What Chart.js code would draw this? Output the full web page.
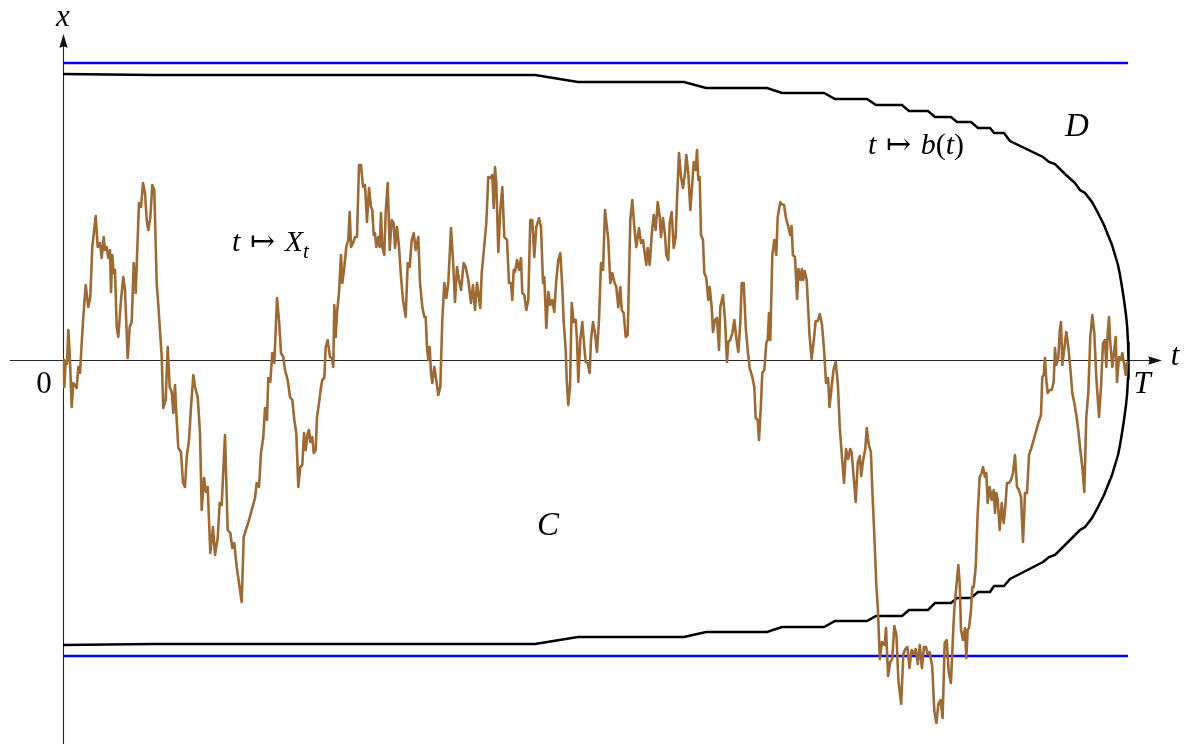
<!DOCTYPE html>
<html>
<head>
<meta charset="utf-8">
<script src="https://cdn.jsdelivr.net/npm/chart.js@4.4.1/dist/chart.umd.min.js"></script>
<style>
html,body{margin:0;padding:0;background:#fff;}
#wrap{width:1191px;height:744px;position:relative;}
</style>
</head>
<body>
<div id="wrap"><canvas id="c"></canvas></div>
<script>
// ---- data (t runs from 0 to T = 1065, x measured from the axis) ----
const T = 1065;
const barrierUp = 297;
const barrierDown = -296;

// upper stopping boundary t -> b(t)
const bT = [0, 90, 472, 515, 621, 643, 704, 719, 761, 772, 804, 813, 839, 846, 865, 872, 888, 894, 908, 915, 927, 931, 941, 947, 980, 986, 992, 1002, 1012, 1017, 1022, 1029, 1035, 1041, 1045, 1049, 1052, 1055, 1057, 1059, 1061, 1063, 1064.2, 1065, 1065.5];
const bX = [286, 285, 285, 278, 278, 272, 272, 267, 267, 261, 261, 255, 255, 249, 249, 243, 243, 238, 238, 232, 232, 227, 227, 219, 203, 198, 196, 186, 177, 170, 167, 158, 147, 135, 125, 115, 105, 95, 85, 73, 60, 45, 33, 18, 0];
// lower boundary
const lowT = [0, 90, 472, 515, 621, 643, 704, 719, 761, 772, 804, 813, 839, 846, 865, 872, 888, 894, 908, 915, 927, 931, 941, 947, 980, 986, 992, 1002, 1012, 1017, 1022, 1029, 1035, 1041, 1045, 1049, 1052, 1055, 1057, 1059, 1061, 1063, 1064.2, 1065, 1065.5];
const lowX = [-285, -284, -284, -277, -277, -272, -272, -267, -267, -261, -261, -256, -256, -250, -250, -243, -243, -238, -238, -232, -232, -226, -226, -219, -202, -197, -195, -185, -175, -170, -167, -158, -147, -135, -125, -115, -105, -95, -85, -73, -60, -45, -33, -18, 0];

// sample path t -> X_t
const pathT = [0,1,1.3,2.7,4,5.3,6.7,8.7,10.3,12,13.7,15.3,17,18.7,20.3,22.7,25.3,27.3,29.3,32.7,34.7,37,38.7,40.7,42,43.7,45.3,47,48,49.3,50.7,52,53.7,55.3,58,60.3,62,64.7,66.7,68.7,70.7,72.7,76,78,80,82,83.7,85.3,87.3,89.3,91.3,93.7,96,98.7,100.3,102.7,104.7,106.7,108.7,110.3,112,113.3,115.3,118,120,122,123.7,126,128,130.3,132,134.7,137,138.7,141,143,144.7,147.3,150,152,154.7,156.7,158.7,162,164.7,167.3,169.3,171.3,173.7,176,178.7,180.7,186,
192,193.7,196,198,200.3,202,204,205.3,207.3,209.3,211.3,214,216,218,220.3,222,224.7,227,229.3,231.3,233.3,235.3,237.3,239.3,241,242.7,244.7,246,247.3,249.3,250.7,252.7,254,256,258,259.3,261.3,262.7,264.7,267,268.7,270.3,271.3,272.7,274,276,278,279.3,281.3,283.3,285.3,286.7,288,290,292,294,296,298,300,302,304,306,308,309.3,310.7,312,313.3,315.3,316.7,318,319.3,321.3,322.7,324.7,326.7,328.7,330.7,332,334,336,338,340,342.7,344.7,346.7,348.7,350.7,352.7,
355.3,357,359.3,361.3,362.7,364,365.3,366.7,368,369.3,371.3,373.3,375.3,377.3,379.3,381.3,383.3,385.3,388,390,392,394,396,398,400.7,402.7,405.3,408,410,412,414,417.3,418.7,420.7,423.3,425.3,427.3,429.3,430.7,432,433.3,435.3,437.3,439.3,441.3,444,446,448,449.3,450.7,452,454,456,458,459.3,461.3,463.3,465.3,467.3,469.3,471.3,473.3,476,478,480,481.3,483.3,485.3,487.3,489.3,491.3,493.3,495.3,497.3,499.3,500.7,502.7,503.7,505.3,507,508.7,510.7,512.7,514,515.3,517.3,519.3,521.3,522.7,524.7,526.7,528,530,532,534,536,538,540,542,
545.3,547.3,549.3,551.3,553.3,555.3,557.3,558.7,560.7,562.7,564.7,567.3,569.3,571.3,573.3,576,578,580,581.3,583.3,584.7,586.7,588.7,590.7,592.7,594.7,596.7,598,600,602,603.3,605.3,606.7,608.7,610.7,612.7,614,616,618,620,622,623.3,625.3,627.3,629.3,630.7,632.7,634,635.3,636.7,638,640,641.3,643.3,645.3,646.7,648.7,650,652,654,656,657.3,660,662,664,665.3,667.3,669.3,671.3,673.3,675.3,677.3,678.7,680.7,682.7,684.7,686.7,689.3,691.3,692.7,694.7,696,698,699.3,701.3,703.3,704.7,706,707.3,709.3,711.3,713.3,714.7,717.3,
718.2,721,723,725.1,727.2,728.6,729.9,732,734.1,735.4,737.5,738.9,740.3,741.7,743.7,745.1,746.5,748.6,750.6,752.7,754.8,756.8,758.9,761,763,765.1,766.5,768.6,770.6,772.7,774.8,776.8,778.9,781,783,785.1,787.2,788.6,790.6,792.7,794.8,796.8,798.2,800.3,802.3,803.7,805.8,807.9,809.2,811.3,813.4,814.8,816.8,818.9,821.7,823,825.1,827.2,829.2,831.3,833.4,835.4,838.2,840.3,842.3,844.4,846.5,848.6,850.6,852.7,854.8,856.8,858.9,861,863,864.4,866.5,869.2,871.3,873.4,875.4,877.5,879.6,881.7,883.7,885.8,887.9,889.9,891.3,
895.3,896.7,898,900,902,903.3,904.7,906,908,909.3,910.7,912.7,914.7,916.7,918.7,920,922,923.3,924.7,926.7,928.7,930.7,932,933.3,934.7,936.7,938.7,940.7,942,944,946,948,950,952,954,956,958,960,962,964,966,968.7,972,975.3,978,979.3,980.7,982,983.3,984.7,986.7,988.7,990.7,992,993.3,995.3,996.7,998,999.3,1001.3,1003.3,1005.3,1007.3,1009.3,1011.3,1013.3,1015.3,1017.3,1019.3,1021.3,1023.3,1025.3,1027.3,1029.3,1031.3,1033.3,1036,1038,1040,1042,1043.3,1044.7,1046,1047.3,1049.3,1051.3,1052.7,1054,1056,1058,1059.3,1061.3,1062.7,1064,1065.3];
const pathX = [0,0,-27,-2,-4,30,7,-47,-23,-25,-28,-7,-13,17,43,75,53,63,113,144,113,117,102,123,110,113,102,110,68,105,87,90,33,23,60,83,70,2,33,38,97,67,157,153,177,167,140,130,142,175,170,77,45,3,-48,-40,13,-27,-32,-53,-25,-53,-88,-92,-123,-127,-97,-80,-47,-15,-27,-37,-73,-150,-118,-132,-127,-193,-167,-195,-178,-143,-145,-75,-170,-173,-188,-183,-207,-223,-242,-177,-160,
-138,-123,-127,-93,-77,-48,-60,-18,-22,7,-3,62,40,7,3,-10,-20,-37,-40,-60,-73,-127,-107,-105,-73,-90,-73,-70,-82,-77,-93,-90,-57,-43,-27,-20,-18,13,20,3,2,-7,55,23,47,67,105,77,93,113,120,148,113,117,123,123,195,195,173,175,138,172,153,150,125,127,113,123,113,147,113,105,148,177,110,140,137,112,133,113,83,60,43,97,93,120,127,110,
123,77,53,43,43,13,0,13,-13,-23,-7,-20,-35,-27,40,77,62,77,132,100,58,93,80,70,97,93,80,57,75,50,77,52,87,108,137,183,182,185,152,193,177,108,150,173,123,120,77,77,60,90,88,100,90,102,67,65,50,60,140,140,103,133,142,133,77,83,32,68,55,60,48,80,100,107,73,38,10,-20,-45,-27,57,38,40,20,-22,20,38,13,-2,-3,-13,20,38,27,8,40,97,90,150,
120,77,87,78,73,53,73,50,47,23,25,140,160,133,113,132,117,120,110,95,112,95,125,145,130,158,143,123,142,125,105,100,137,148,112,123,160,207,183,172,187,205,187,150,177,198,190,210,180,183,125,120,87,82,60,73,53,28,40,42,10,53,65,40,-2,18,20,27,40,22,8,37,77,77,33,10,-8,-17,-27,-58,-60,-80,-43,-13,-10,17,20,47,20,105,120,105,143,158,
156,155,142,134,125,134,105,103,61,91,80,91,80,89,80,53,25,1,18,39,39,46,36,11,-23,-18,-47,-27,-9,-2,-23,-68,-96,-123,-89,-99,-89,-92,-116,-142,-102,-96,-116,-99,-89,-68,-85,-92,-127,-175,-227,-247,-299,-282,-285,-268,-316,-302,-299,-266,-275,-320,-344,-294,-289,-287,-308,-290,-294,-289,-304,-285,-308,-287,-287,-294,-292,-306,-351,-363,-344,-340,-358,-283,-280,-313,-323,-278,-249,
-205,-223,-270,-280,-268,-298,-270,-268,-250,-227,-227,-207,-153,-117,-113,-107,-117,-113,-143,-127,-140,-130,-153,-133,-140,-170,-143,-163,-150,-123,-123,-120,-113,-95,-127,-130,-137,-182,-133,-133,-95,-87,-75,-63,-55,-17,-15,2,-20,-33,-30,-30,-22,12,-5,2,28,38,-5,12,28,13,-8,-33,-43,-55,-70,-90,-107,-132,-57,-33,23,45,27,-17,-57,-27,17,20,-7,27,43,17,-7,10,23,-22,3,0,7,-5,-15,-3,-2];

// frame: visible ranges of the two axes
const tRange = [-63, 1128];
const xRange = [-384, 360];
const axisTExtent = [-53, 1099];
const axisXExtent = [-384, 326];

// text labels
const labels = [
  {parts:[['x','i']], t:0, x:342, size:31, align:'center'},
  {parts:[['t','i']], t:1112, x:3, size:31, align:'center'},
  {parts:[['0','r']], t:-19, x:-25, size:31, align:'center'},
  {parts:[['T','i']], t:1079, x:-25, size:31, align:'center'},
  {parts:[['D','i']], t:1014, x:233, size:33, align:'center'},
  {parts:[['C','i']], t:485, x:-166, size:33, align:'center'},
  {parts:[['t','i'],[' ','g'],['\u21A6','r'],[' ','g'],['X','i'],['t','sub']], t:169, x:117, size:30, align:'left'},
  {parts:[['t','i'],[' ','g'],['\u21A6','r'],[' ','g'],['b','i'],['(','r'],['t','i'],[')','r']], t:805, x:214, size:30, align:'left'}
];

const toXY = (ts, xs) => ts.map((t, i) => ({x: t, y: xs[i]}));

const SERIF = '"Liberation Serif", "DejaVu Serif", serif';
function fontFor(kind, size){
  if (kind === 'i') return 'italic ' + size + 'px ' + SERIF;
  if (kind === 'sub') return 'italic ' + Math.round(size*0.7) + 'px ' + SERIF;
  return size + 'px ' + SERIF;
}
function partWidth(ctx, p, size){
  if (p[1] === 'g') return size * 0.32;
  ctx.font = fontFor(p[1], size);
  return ctx.measureText(p[0]).width;
}

const axesPlugin = {
  id: 'axesPlugin',
  beforeDatasetsDraw(chart){
    const {ctx, scales} = chart;
    const sx = scales.x, sy = scales.y;
    const y0 = Math.round(sy.getPixelForValue(0)) + 0.5;
    const x0 = Math.round(sx.getPixelForValue(0)) + 0.5;
    const xl = sx.getPixelForValue(axisTExtent[0]);
    const xr = sx.getPixelForValue(axisTExtent[1]);
    const yb = sy.getPixelForValue(axisXExtent[0]);
    const yt = sy.getPixelForValue(axisXExtent[1]);
    ctx.save();
    ctx.strokeStyle = '#262626';
    ctx.fillStyle = '#111';
    ctx.lineWidth = 1.1;
    ctx.beginPath();
    ctx.moveTo(xl, y0); ctx.lineTo(xr - 6, y0);
    ctx.moveTo(x0, yb); ctx.lineTo(x0, yt + 6);
    ctx.stroke();
    const L = 14, W = 4.2;
    ctx.beginPath();
    ctx.moveTo(xr, y0);
    ctx.lineTo(xr - L, y0 - W);
    ctx.quadraticCurveTo(xr - L + 3, y0, xr - L, y0 + W);
    ctx.closePath();
    ctx.fill();
    ctx.beginPath();
    ctx.moveTo(x0, yt);
    ctx.lineTo(x0 - W, yt + L);
    ctx.quadraticCurveTo(x0, yt + L - 3, x0 + W, yt + L);
    ctx.closePath();
    ctx.fill();
    ctx.restore();
  },
  afterDatasetsDraw(chart){
    const {ctx, scales} = chart;
    const sx = scales.x, sy = scales.y;
    ctx.save();
    ctx.fillStyle = '#000';
    ctx.textBaseline = 'middle';
    ctx.textAlign = 'left';
    labels.forEach(lb => {
      const px = sx.getPixelForValue(lb.t);
      const py = sy.getPixelForValue(lb.x);
      let total = 0;
      lb.parts.forEach(p => total += partWidth(ctx, p, lb.size));
      let cx = lb.align === 'center' ? px - total / 2 : px;
      lb.parts.forEach(p => {
        const w = partWidth(ctx, p, lb.size);
        if (p[1] !== 'g') {
          ctx.font = fontFor(p[1], lb.size);
          const dy = p[1] === 'sub' ? lb.size * 0.3 : 0;
          ctx.fillText(p[0], cx, py + dy);
        }
        cx += w;
      });
    });
    ctx.restore();
  }
};

new Chart(document.getElementById('c'), {
  type: 'scatter',
  data: {
    datasets: [
      {label: 'X', data: toXY(pathT, pathX), showLine: true, borderColor: '#9d6a36', borderWidth: 2.6, pointRadius: 0, tension: 0, borderJoinStyle: 'round'},
      {label: 'b', data: toXY(bT, bX), showLine: true, borderColor: '#000', borderWidth: 2.5, pointRadius: 0, tension: 0},
      {label: '-b', data: toXY(lowT, lowX), showLine: true, borderColor: '#000', borderWidth: 2.5, pointRadius: 0, tension: 0},
      {label: 'up', data: toXY([0, T], [barrierUp, barrierUp]), showLine: true, borderColor: '#0000ee', borderWidth: 2.5, pointRadius: 0},
      {label: 'down', data: toXY([0, T], [barrierDown, barrierDown]), showLine: true, borderColor: '#0000ee', borderWidth: 2.5, pointRadius: 0}
    ]
  },
  options: {
    responsive: true,
    maintainAspectRatio: false,
    devicePixelRatio: 1,
    animation: false,
    layout: {padding: 0},
    plugins: {legend: {display: false}, tooltip: {enabled: false}},
    scales: {
      x: {type: 'linear', min: tRange[0], max: tRange[1], display: false},
      y: {type: 'linear', min: xRange[0], max: xRange[1], display: false}
    }
  },
  plugins: [axesPlugin]
});
</script>
</body>
</html>
